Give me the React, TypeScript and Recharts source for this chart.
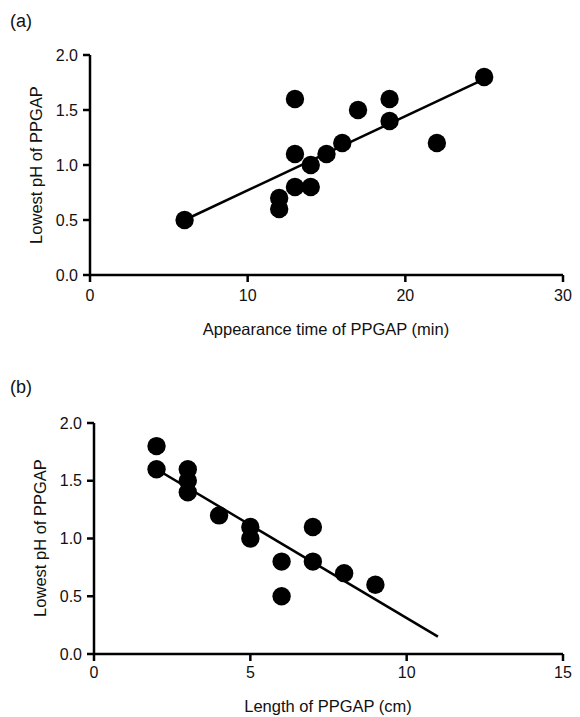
import React from "react";
import { ComposedChart, Scatter, Line, XAxis, YAxis, Label } from "recharts";

// Panel (a): appearance time (min) vs lowest pH
const pointsA = [
  { x: 6, y: 0.5 },
  { x: 12, y: 0.7 },
  { x: 12, y: 0.6 },
  { x: 13, y: 1.6 },
  { x: 13, y: 1.1 },
  { x: 13, y: 0.8 },
  { x: 14, y: 1.0 },
  { x: 14, y: 0.8 },
  { x: 15, y: 1.1 },
  { x: 16, y: 1.2 },
  { x: 17, y: 1.5 },
  { x: 19, y: 1.6 },
  { x: 19, y: 1.4 },
  { x: 22, y: 1.2 },
  { x: 25, y: 1.8 },
];
const fitA = [
  { x: 6, y: 0.5 },
  { x: 25, y: 1.78 },
];

// Panel (b): length (cm) vs lowest pH
const pointsB = [
  { x: 2, y: 1.8 },
  { x: 2, y: 1.6 },
  { x: 3, y: 1.6 },
  { x: 3, y: 1.5 },
  { x: 3, y: 1.4 },
  { x: 4, y: 1.2 },
  { x: 5, y: 1.1 },
  { x: 5, y: 1.0 },
  { x: 6, y: 0.8 },
  { x: 6, y: 0.5 },
  { x: 7, y: 1.1 },
  { x: 7, y: 0.8 },
  { x: 8, y: 0.7 },
  { x: 9, y: 0.6 },
];
const fitB = [
  { x: 2, y: 1.6 },
  { x: 11, y: 0.15 },
];

const ticksXA = [0, 10, 20, 30];
const ticksXB = [0, 5, 10, 15];
const ticksY = [0, 0.5, 1.0, 1.5, 2.0];

const yLabelText = "Lowest pH of PPGAP";
const xLabelA = "Appearance time of PPGAP (min)";
const xLabelB = "Length of PPGAP (cm)";

const FONT = '"Liberation Sans", Arial, Helvetica, sans-serif';
const tickStyle = { fontSize: 16, fill: "#111", fontFamily: FONT };
const axisLine = { stroke: "#000", strokeWidth: 2.5 };
const tickLine = { stroke: "#000", strokeWidth: 2.5 };

const Dot = (props: any) => {
  const { cx, cy } = props;
  if (cx == null || cy == null) return null;
  return <circle cx={cx} cy={cy} r={9.2} fill="#000" />;
};

const textLabel = (x: number, y: number, text: string, rotate = false) => () =>
  (
    <text
      x={x}
      y={y}
      textAnchor="middle"
      dominantBaseline="central"
      fontSize={16.5}
      fontFamily={FONT}
      fill="#111"
      transform={rotate ? `rotate(-90 ${x} ${y})` : undefined}
    >
      {text}
    </text>
  );

export default function App() {
  return (
    <div
      style={{
        position: "absolute",
        left: 0,
        top: 0,
        width: 580,
        height: 717,
        background: "#fff",
        fontFamily: FONT,
      }}
    >
      <div style={{ position: "absolute", left: 10, top: 11, fontSize: 18, color: "#111" }}>(a)</div>
      <div style={{ position: "absolute", left: 10, top: 377, fontSize: 18, color: "#111" }}>(b)</div>

      <div style={{ position: "absolute", left: 0, top: 0 }}>
        <ComposedChart width={580} height={360} margin={{ top: 55, right: 17, bottom: 0, left: 0 }}>
          <XAxis
            dataKey="x"
            type="number"
            domain={[0, 30]}
            ticks={ticksXA}
            height={85}
            tick={tickStyle}
            tickSize={7}
            tickMargin={8}
            axisLine={axisLine}
            tickLine={tickLine}
            allowDataOverflow
          >
            <Label content={textLabel(326, 329, xLabelA)} />
          </XAxis>
          <YAxis
            type="number"
            domain={[0, 2]}
            ticks={ticksY}
            width={90}
            tick={tickStyle}
            tickSize={7}
            tickMargin={5}
            axisLine={axisLine}
            tickLine={tickLine}
            tickFormatter={(v: number) => v.toFixed(1)}
          >
            <Label content={textLabel(36, 165, yLabelText, true)} />
          </YAxis>
          <Line
            data={fitA}
            dataKey="y"
            stroke="#000"
            strokeWidth={2.5}
            dot={false}
            activeDot={false}
            isAnimationActive={false}
          />
          <Scatter data={pointsA} dataKey="y" fill="#000" shape={Dot} isAnimationActive={false} />
        </ComposedChart>
      </div>

      <div style={{ position: "absolute", left: 0, top: 360 }}>
        <ComposedChart width={580} height={357} margin={{ top: 63, right: 17, bottom: 0, left: 0 }}>
          <XAxis
            dataKey="x"
            type="number"
            domain={[0, 15]}
            ticks={ticksXB}
            height={63}
            tick={tickStyle}
            tickSize={7}
            tickMargin={6}
            axisLine={axisLine}
            tickLine={tickLine}
          >
            <Label content={textLabel(328, 346, xLabelB)} />
          </XAxis>
          <YAxis
            type="number"
            domain={[0, 2]}
            ticks={ticksY}
            width={94}
            tick={tickStyle}
            tickSize={7}
            tickMargin={5}
            axisLine={axisLine}
            tickLine={tickLine}
            tickFormatter={(v: number) => v.toFixed(1)}
          >
            <Label content={textLabel(40, 178, yLabelText, true)} />
          </YAxis>
          <Line
            data={fitB}
            dataKey="y"
            stroke="#000"
            strokeWidth={2.5}
            dot={false}
            activeDot={false}
            isAnimationActive={false}
          />
          <Scatter data={pointsB} dataKey="y" fill="#000" shape={Dot} isAnimationActive={false} />
        </ComposedChart>
      </div>
    </div>
  );
}
